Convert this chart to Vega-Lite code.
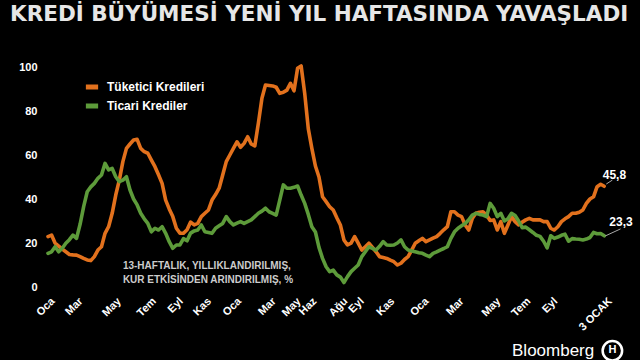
{
  "$schema": "https://vega.github.io/schema/vega-lite/v6.json",
  "width": 558,
  "height": 220,
  "autosize": {"type": "none"},
  "padding": {"left": 48, "top": 67, "right": 34, "bottom": 73},
  "background": "#000000",
  "config": {"view": {"stroke": null}, "font": "Liberation Sans", "axis": {"labelOverlap": false}, "axisX": {"labelOverlap": false, "labelSeparation": -40}},
  "title": {
    "text": "KREDİ BÜYÜMESİ YENİ YIL HAFTASINDA YAVAŞLADI",
    "font": "DejaVu Sans", "fontSize": 21.5, "fontWeight": "bold", "color": "#e6e6e6",
    "anchor": "start", "frame": "group", "dx": -38, "offset": 36
  },
  "resolve": {"axis": {"x": "independent", "y": "independent"}},
  "layer": [
    {
      "data": {"values": [
        {"d":"2019-01-04","t":22.9,"c":15.3},{"d":"2019-01-11","t":23.6,"c":16.0},{"d":"2019-01-18","t":19.9,"c":18.3},{"d":"2019-01-25","t":18.6,"c":16.0},
        {"d":"2019-02-01","t":17.2,"c":17.6},{"d":"2019-02-08","t":16.0,"c":19.9},{"d":"2019-02-15","t":14.8,"c":21.5},{"d":"2019-02-22","t":14.6,"c":23.6},
        {"d":"2019-03-01","t":14.5,"c":22.1},{"d":"2019-03-08","t":13.8,"c":28.5},{"d":"2019-03-15","t":13.0,"c":36.5},{"d":"2019-03-22","t":12.3,"c":43.3},{"d":"2019-03-29","t":12.0,"c":45.5},
        {"d":"2019-04-05","t":13.8,"c":47.1},{"d":"2019-04-12","t":16.8,"c":49.4},{"d":"2019-04-19","t":18.3,"c":50.9},{"d":"2019-04-26","t":24.4,"c":56.2},
        {"d":"2019-05-03","t":27.4,"c":53.2},{"d":"2019-05-10","t":33.5,"c":53.9},{"d":"2019-05-17","t":41.8,"c":50.1},{"d":"2019-05-24","t":48.6,"c":47.9},{"d":"2019-05-31","t":57.0,"c":48.6},
        {"d":"2019-06-07","t":63.0,"c":50.1},{"d":"2019-06-14","t":65.0,"c":44.1},{"d":"2019-06-21","t":66.8,"c":40.0},{"d":"2019-06-28","t":67.1,"c":37.3},
        {"d":"2019-07-05","t":63.0,"c":33.5},{"d":"2019-07-12","t":61.5,"c":31.0},{"d":"2019-07-19","t":60.8,"c":28.9},{"d":"2019-07-26","t":57.7,"c":25.1},
        {"d":"2019-08-02","t":54.7,"c":26.7},{"d":"2019-08-09","t":51.0,"c":25.9},{"d":"2019-08-16","t":47.1,"c":27.4},{"d":"2019-08-23","t":39.5,"c":24.4},{"d":"2019-08-30","t":35.5,"c":20.6},
        {"d":"2019-09-06","t":32.0,"c":17.6},{"d":"2019-09-13","t":26.7,"c":19.1},{"d":"2019-09-20","t":24.5,"c":19.1},{"d":"2019-09-27","t":24.4,"c":22.0},
        {"d":"2019-10-04","t":26.0,"c":21.0},{"d":"2019-10-11","t":29.5,"c":24.5},{"d":"2019-10-18","t":28.2,"c":25.5},{"d":"2019-10-25","t":28.9,"c":25.9},
        {"d":"2019-11-01","t":32.0,"c":28.2},{"d":"2019-11-08","t":33.5,"c":25.1},{"d":"2019-11-15","t":35.0,"c":24.8},{"d":"2019-11-22","t":39.5,"c":24.4},{"d":"2019-11-29","t":42.0,"c":26.7},
        {"d":"2019-12-06","t":44.9,"c":27.8},{"d":"2019-12-13","t":50.9,"c":28.9},{"d":"2019-12-20","t":57.0,"c":32.0},{"d":"2019-12-27","t":60.0,"c":29.7},
        {"d":"2020-01-03","t":63.0,"c":28.2},{"d":"2020-01-10","t":66.0,"c":29.0},{"d":"2020-01-17","t":63.5,"c":29.7},{"d":"2020-01-24","t":65.3,"c":28.9},{"d":"2020-01-31","t":68.3,"c":29.7},
        {"d":"2020-02-07","t":65.0,"c":30.5},{"d":"2020-02-14","t":64.1,"c":32.0},{"d":"2020-02-21","t":74.4,"c":33.5},{"d":"2020-02-28","t":85.8,"c":34.5},
        {"d":"2020-03-06","t":91.8,"c":35.8},{"d":"2020-03-13","t":91.6,"c":34.2},{"d":"2020-03-20","t":91.4,"c":33.5},{"d":"2020-03-27","t":90.8,"c":32.7},
        {"d":"2020-04-03","t":88.0,"c":39.5},{"d":"2020-04-10","t":88.5,"c":46.4},{"d":"2020-04-17","t":89.5,"c":44.9},{"d":"2020-04-24","t":92.6,"c":44.9},
        {"d":"2020-05-01","t":89.2,"c":45.3},{"d":"2020-05-08","t":99.4,"c":45.9},{"d":"2020-05-15","t":100.5,"c":41.8},{"d":"2020-05-22","t":88.0,"c":38.0},{"d":"2020-05-29","t":72.0,"c":33.0},
        {"d":"2020-06-05","t":63.0,"c":27.4},{"d":"2020-06-12","t":55.0,"c":25.0},{"d":"2020-06-19","t":50.0,"c":18.0},{"d":"2020-06-26","t":41.0,"c":13.0},
        {"d":"2020-07-03","t":38.8,"c":9.2},{"d":"2020-07-10","t":36.5,"c":7.0},{"d":"2020-07-17","t":35.0,"c":7.7},{"d":"2020-07-24","t":31.5,"c":5.5},{"d":"2020-07-31","t":28.2,"c":4.5},
        {"d":"2020-08-07","t":21.4,"c":2.0},{"d":"2020-08-14","t":19.1,"c":4.7},{"d":"2020-08-21","t":19.9,"c":7.0},{"d":"2020-08-28","t":22.9,"c":8.5},
        {"d":"2020-09-04","t":19.9,"c":10.0},{"d":"2020-09-11","t":16.8,"c":13.8},{"d":"2020-09-18","t":18.3,"c":16.0},{"d":"2020-09-25","t":19.9,"c":18.3},
        {"d":"2020-10-02","t":18.0,"c":17.6},{"d":"2020-10-09","t":16.0,"c":16.8},{"d":"2020-10-16","t":13.8,"c":18.5},{"d":"2020-10-23","t":13.4,"c":20.6},{"d":"2020-10-30","t":13.0,"c":19.1},
        {"d":"2020-11-06","t":12.2,"c":19.0},{"d":"2020-11-13","t":11.5,"c":19.1},{"d":"2020-11-20","t":10.0,"c":20.0},{"d":"2020-11-27","t":10.8,"c":21.4},
        {"d":"2020-12-04","t":12.5,"c":18.3},{"d":"2020-12-11","t":13.8,"c":16.8},{"d":"2020-12-18","t":16.8,"c":16.4},{"d":"2020-12-25","t":19.9,"c":16.0},
        {"d":"2021-01-01","t":21.0,"c":15.6},{"d":"2021-01-08","t":22.1,"c":15.3},{"d":"2021-01-15","t":20.6,"c":14.5},{"d":"2021-01-22","t":21.4,"c":13.8},{"d":"2021-01-29","t":22.2,"c":15.3},
        {"d":"2021-02-05","t":22.9,"c":16.0},{"d":"2021-02-12","t":24.4,"c":16.8},{"d":"2021-02-19","t":26.0,"c":17.5},{"d":"2021-02-26","t":27.4,"c":18.3},
        {"d":"2021-03-05","t":34.2,"c":22.1},{"d":"2021-03-12","t":34.2,"c":25.1},{"d":"2021-03-19","t":32.7,"c":26.7},{"d":"2021-03-26","t":32.0,"c":27.8},
        {"d":"2021-04-02","t":28.2,"c":28.9},{"d":"2021-04-09","t":25.9,"c":30.5},{"d":"2021-04-16","t":31.2,"c":32.7},{"d":"2021-04-23","t":33.5,"c":33.5},{"d":"2021-04-30","t":34.0,"c":33.0},
        {"d":"2021-05-07","t":34.2,"c":32.7},{"d":"2021-05-14","t":32.7,"c":32.0},{"d":"2021-05-21","t":30.2,"c":38.0},{"d":"2021-05-28","t":30.5,"c":35.8},
        {"d":"2021-06-04","t":25.9,"c":32.0},{"d":"2021-06-11","t":29.7,"c":33.5},{"d":"2021-06-18","t":24.4,"c":30.0},{"d":"2021-06-25","t":28.2,"c":31.0},
        {"d":"2021-07-02","t":32.0,"c":33.5},{"d":"2021-07-09","t":29.7,"c":32.5},{"d":"2021-07-16","t":28.2,"c":30.0},{"d":"2021-07-23","t":29.5,"c":27.0},{"d":"2021-07-30","t":30.5,"c":27.2},
        {"d":"2021-08-06","t":31.2,"c":26.0},{"d":"2021-08-13","t":30.5,"c":24.8},{"d":"2021-08-20","t":30.5,"c":23.5},{"d":"2021-08-27","t":30.5,"c":23.0},
        {"d":"2021-09-03","t":29.7,"c":20.8},{"d":"2021-09-10","t":29.7,"c":17.8},{"d":"2021-09-17","t":26.7,"c":23.3},{"d":"2021-09-24","t":25.9,"c":22.1},
        {"d":"2021-10-01","t":27.4,"c":22.7},{"d":"2021-10-08","t":29.7,"c":23.5},{"d":"2021-10-15","t":31.0,"c":24.0},{"d":"2021-10-22","t":32.0,"c":20.8},{"d":"2021-10-29","t":33.5,"c":22.0},
        {"d":"2021-11-05","t":33.5,"c":21.8},{"d":"2021-11-12","t":34.0,"c":21.7},{"d":"2021-11-19","t":35.0,"c":21.4},{"d":"2021-11-26","t":38.0,"c":21.8},
        {"d":"2021-12-03","t":40.0,"c":22.5},{"d":"2021-12-10","t":41.0,"c":24.8},{"d":"2021-12-17","t":45.6,"c":24.2},{"d":"2021-12-24","t":46.7,"c":24.3},{"d":"2021-12-31","t":45.8,"c":23.3}
      ]},
      "transform": [{"fold": ["t", "c"], "as": ["k", "v"]}],
      "mark": {"type": "line", "strokeWidth": 3.6, "strokeJoin": "round", "strokeCap": "round"},
      "encoding": {
        "x": {
          "field": "d", "type": "temporal", "title": null,
          "scale": {"domain": [{"year": 2019, "month": 1, "date": 4}, {"year": 2022, "month": 1, "date": 3, "hours": 12}], "nice": false},
          "axis": {
            "domain": false, "ticks": false, "grid": false, "labelAngle": -45, "labelPadding": 8,
            "labelColor": "#ffffff", "labelFont": "Liberation Sans", "labelFontWeight": "bold", "labelFontSize": 11,
            "labelOverlap": false, "labelSeparation": -40, "labelBound": false, "labelFlush": false,
            "values": [
              {"year": 2019, "month": 1, "date": 5}, {"year": 2019, "month": 3, "date": 1}, {"year": 2019, "month": 5, "date": 15},
              {"year": 2019, "month": 7, "date": 23}, {"year": 2019, "month": 9, "date": 14}, {"year": 2019, "month": 11, "date": 8},
              {"year": 2020, "month": 1, "date": 6}, {"year": 2020, "month": 3, "date": 14}, {"year": 2020, "month": 5, "date": 2},
              {"year": 2020, "month": 6, "date": 2}, {"year": 2020, "month": 8, "date": 2}, {"year": 2020, "month": 9, "date": 3},
              {"year": 2020, "month": 11, "date": 2}, {"year": 2021, "month": 1, "date": 8}, {"year": 2021, "month": 3, "date": 18},
              {"year": 2021, "month": 5, "date": 29}, {"year": 2021, "month": 7, "date": 27}, {"year": 2021, "month": 9, "date": 18},
              {"year": 2022, "month": 1, "date": 3}
            ],
            "labelExpr": "year(datum.value) == 2022 ? '3 OCAK' : ['Oca','Şub','Mar','Nis','May','Haz','Tem','Ağu','Eyl','Eki','Kas','Ara'][month(datum.value)]"
          }
        },
        "y": {
          "field": "v", "type": "quantitative", "title": null,
          "scale": {"domain": [0, 100], "nice": false},
          "axis": {
            "values": [0, 20, 40, 60, 80, 100], "domain": false, "ticks": false, "grid": false,
            "labelPadding": 11, "labelColor": "#ffffff", "labelFont": "Liberation Sans", "labelFontWeight": "bold", "labelFontSize": 11
          }
        },
        "color": {
          "field": "k", "type": "nominal",
          "scale": {"domain": ["t", "c"], "range": ["#E2711D", "#5D9B3A"]},
          "legend": {
            "orient": "none", "legendX": 35, "legendY": 11, "title": null, "direction": "vertical",
            "symbolType": "stroke", "symbolStrokeWidth": 5, "symbolSize": 150, "rowPadding": -4,
            "labelColor": "#ffffff", "labelFont": "Liberation Sans", "labelFontWeight": "bold", "labelFontSize": 12, "labelOffset": 6,
            "labelExpr": "datum.label == 't' ? 'Tüketici Kredileri' : 'Ticari Krediler'"
          }
        }
      }
    },
    {
      "data": {"values": [
        {"d": "2022-01-04", "v": 46.8, "d2": "2022-01-16", "v2": 48.6},
        {"d": "2022-01-02", "v": 23.2, "d2": "2022-02-01", "v2": 26.4}
      ]},
      "mark": {"type": "rule", "color": "#aaaaaa", "strokeWidth": 1},
      "encoding": {
        "x": {"field": "d", "type": "temporal", "axis": null},
        "y": {"field": "v", "type": "quantitative", "axis": null},
        "x2": {"field": "d2"},
        "y2": {"field": "v2"}
      }
    },
    {
      "data": {"values": [
        {"d": "2022-01-20", "v": 50.9, "txt": "45,8"},
        {"d": "2022-02-02", "v": 29.5, "txt": "23,3"}
      ]},
      "mark": {"type": "text", "color": "#ffffff", "font": "Liberation Sans", "fontWeight": "bold", "fontSize": 12, "align": "center", "baseline": "middle"},
      "encoding": {
        "x": {"field": "d", "type": "temporal", "axis": null},
        "y": {"field": "v", "type": "quantitative", "axis": null},
        "text": {"field": "txt"}
      }
    },
    {
      "data": {"values": [
        {"d": "2019-05-31", "v": 9.5, "txt": "13-HAFTALIK, YILLIKLANDIRILMIŞ,"},
        {"d": "2019-05-31", "v": 3.2, "txt": "KUR ETKİSİNDEN ARINDIRILMIŞ, %"}
      ]},
      "mark": {"type": "text", "color": "#cccccc", "font": "Liberation Sans", "fontWeight": "bold", "fontSize": 10, "align": "left", "baseline": "middle"},
      "encoding": {
        "x": {"field": "d", "type": "temporal", "axis": null},
        "y": {"field": "v", "type": "quantitative", "axis": null},
        "text": {"field": "txt"}
      }
    },
    {
      "data": {"values": [{"d": "2021-07-03", "v": -29.0, "txt": "Bloomberg"}]},
      "mark": {"type": "text", "color": "#ffffff", "font": "Liberation Sans", "fontSize": 17, "align": "left", "baseline": "middle"},
      "encoding": {
        "x": {"field": "d", "type": "temporal", "axis": null},
        "y": {"field": "v", "type": "quantitative", "axis": null},
        "text": {"field": "txt"}
      }
    },
    {
      "data": {"values": [{"d": "2022-01-16", "v": -29.0}]},
      "mark": {"type": "point", "shape": "circle", "size": 380, "filled": false, "stroke": "#ffffff", "strokeWidth": 2.5, "opacity": 1},
      "encoding": {
        "x": {"field": "d", "type": "temporal", "axis": null},
        "y": {"field": "v", "type": "quantitative", "axis": null}
      }
    },
    {
      "data": {"values": [{"d": "2022-01-16", "v": -28.5, "txt": "H"}]},
      "mark": {"type": "text", "color": "#ffffff", "font": "Liberation Sans", "fontWeight": "bold", "fontSize": 11, "align": "center", "baseline": "middle"},
      "encoding": {
        "x": {"field": "d", "type": "temporal", "axis": null},
        "y": {"field": "v", "type": "quantitative", "axis": null},
        "text": {"field": "txt"}
      }
    }
  ]
}
